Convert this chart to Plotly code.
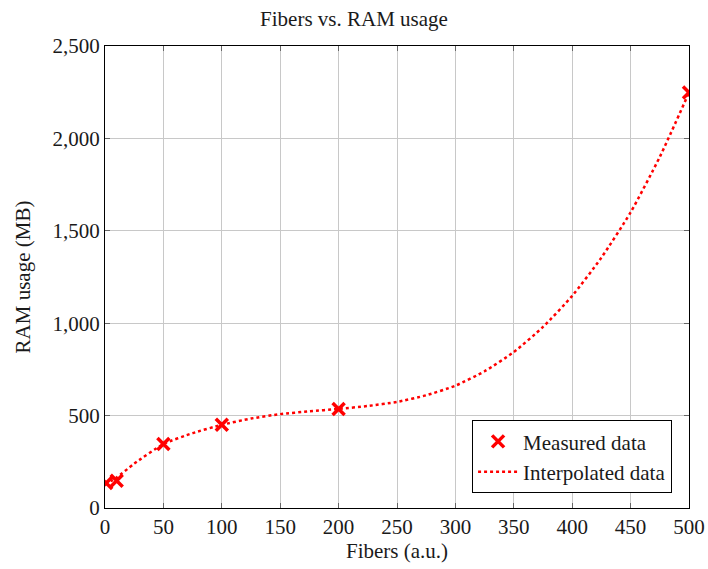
import plotly.graph_objects as go

# Measured data
measured_x = [1, 10, 50, 100, 200, 500]
measured_y = [135, 148, 346, 450, 536, 2248]

# Interpolated curve
interp_x = [0, 10, 25, 50, 75, 100, 125, 150, 175, 200, 225, 250, 275, 300,
            325, 350, 375, 400, 425, 450, 475, 500]
interp_y = [128, 165, 240, 346, 405, 450, 484, 508, 523, 536, 552, 574, 610, 662,
            740, 844, 980, 1148, 1355, 1600, 1900, 2248]

title_text = "Fibers vs. RAM usage"
x_title = "Fibers (a.u.)"
y_title = "RAM usage (MB)"
x_ticks = [0, 50, 100, 150, 200, 250, 300, 350, 400, 450, 500]
y_ticks = [0, 500, 1000, 1500, 2000, 2500]

FONT = "Liberation Serif"
RED = "#ff0000"
FS = 21
TXT = "#1a1a1a"

fig = go.Figure()
fig.add_trace(go.Scatter(
    x=measured_x, y=measured_y, mode="markers", name="Measured data",
    marker=dict(symbol="x-thin", size=12, color=RED,
                line=dict(color=RED, width=3.5)),
))
fig.add_trace(go.Scatter(
    x=interp_x, y=interp_y, mode="lines", name="Interpolated data",
    line=dict(color=RED, width=2.5, dash="dot", shape="spline", smoothing=0.6),
))

axis_common = dict(
    showline=True, linecolor="black", linewidth=1.2, mirror="ticks",
    ticks="inside", ticklen=5, tickcolor="#666666", tickwidth=1,
    showgrid=True, gridcolor="#c8c8c8", gridwidth=1, zeroline=False,
    automargin=False,
    tickfont=dict(family=FONT, size=FS, color=TXT),
)

fig.update_layout(
    width=708, height=569,
    margin=dict(l=105, r=19, t=46, b=61, autoexpand=False),
    paper_bgcolor="white", plot_bgcolor="white",
    font=dict(family=FONT, size=FS, color=TXT),
    title=dict(text=title_text, x=0.5, xanchor="center", y=0.967, yanchor="middle",
               font=dict(family=FONT, size=FS, color=TXT), automargin=False),
    xaxis=dict(range=[0, 500], tickvals=x_ticks,
               title=dict(text=x_title, font=dict(family=FONT, size=FS), standoff=3),
               **axis_common),
    yaxis=dict(range=[0, 2500], tickvals=y_ticks, tickformat=",d",
               title=dict(text=y_title, font=dict(family=FONT, size=FS), standoff=16),
               **axis_common),
    legend=dict(x=0.971, xanchor="right", y=0.032, yanchor="bottom",
                bgcolor="white", bordercolor="black", borderwidth=1,
                font=dict(family=FONT, size=FS, color=TXT),
                itemwidth=40, tracegroupgap=0),
    showlegend=True,
)

fig.write_html(
    "out.html",
    config={"displayModeBar": False},
    post_script="document.body.style.margin='0';document.body.style.overflow='hidden';",
)
